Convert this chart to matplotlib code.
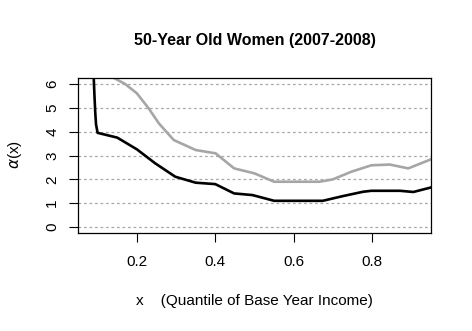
import matplotlib
matplotlib.use("Agg")
import matplotlib.pyplot as plt

plt.rcParams['font.family'] = ['Liberation Sans', 'DejaVu Sans']

# Data
x_black = [0.088, 0.090, 0.092, 0.094, 0.096, 0.100, 0.150, 0.200, 0.247, 0.298, 0.350, 0.400,
           0.448, 0.495, 0.550, 0.597, 0.674, 0.726, 0.777, 0.798, 0.871, 0.905, 0.950]
y_black = [8.0, 6.3, 5.5, 4.8, 4.3, 3.95, 3.75, 3.26, 2.67, 2.11, 1.86, 1.80,
           1.41, 1.34, 1.10, 1.10, 1.10, 1.30, 1.48, 1.52, 1.52, 1.47, 1.66]

x_gray = [0.110, 0.136, 0.170, 0.200, 0.230, 0.256, 0.294, 0.350, 0.401, 0.448, 0.500,
          0.550, 0.666, 0.700, 0.747, 0.798, 0.845, 0.892, 0.950]
y_gray = [7.2, 6.3, 6.0, 5.61, 4.98, 4.35, 3.65, 3.23, 3.09, 2.46, 2.25,
          1.90, 1.90, 2.00, 2.32, 2.59, 2.62, 2.46, 2.84]

x_ticks = [0.2, 0.4, 0.6, 0.8]
x_ticklabels = ["0.2", "0.4", "0.6", "0.8"]
y_ticks = [0, 1, 2, 3, 4, 5, 6]
y_ticklabels = ["0", "1", "2", "3", "4", "5", "6"]

title = "50-Year Old Women (2007-2008)"
xlabel = "x    (Quantile of Base Year Income)"
ylabel = r"$\alpha$(x)"

fig = plt.figure(figsize=(4.72, 3.31), dpi=100)
ax = fig.add_axes([78/472, 1 - 233/331, (431-78)/472, (233-78)/331])

for yv in y_ticks:
    ax.axhline(yv, color='#A8A8A8', lw=0.9, ls=(0, (2.2, 2.2)), zorder=1)

ax.plot(x_gray, y_gray, color='#A6A6A6', lw=1.9, zorder=2)
ax.plot(x_black, y_black, color='black', lw=1.9, zorder=3)

ax.set_xlim(0.05, 0.95)
ax.set_ylim(-0.25, 6.25)
ax.set_xticks(x_ticks)
ax.set_xticklabels(x_ticklabels, fontsize=11)
ax.set_yticks(y_ticks)
ax.set_yticklabels(y_ticklabels, fontsize=11, rotation=90, va='center')
ax.tick_params(axis='both', length=6.5, width=0.8, direction='out')
ax.tick_params(axis='x', pad=9)
ax.tick_params(axis='y', pad=7)
for s in ax.spines.values():
    s.set_linewidth(0.9)

fig.text(254.5/472, 1 - 41/331, title, ha='center', va='center', fontsize=11.5, fontweight='bold')
fig.text(254.5/472, 1 - 301.5/331, xlabel, ha='center', va='center', fontsize=11)
fig.text(15/472, 1 - 155/331, ylabel, ha='center', va='center', fontsize=11, rotation=90)

fig.savefig("out.png", dpi=100)
